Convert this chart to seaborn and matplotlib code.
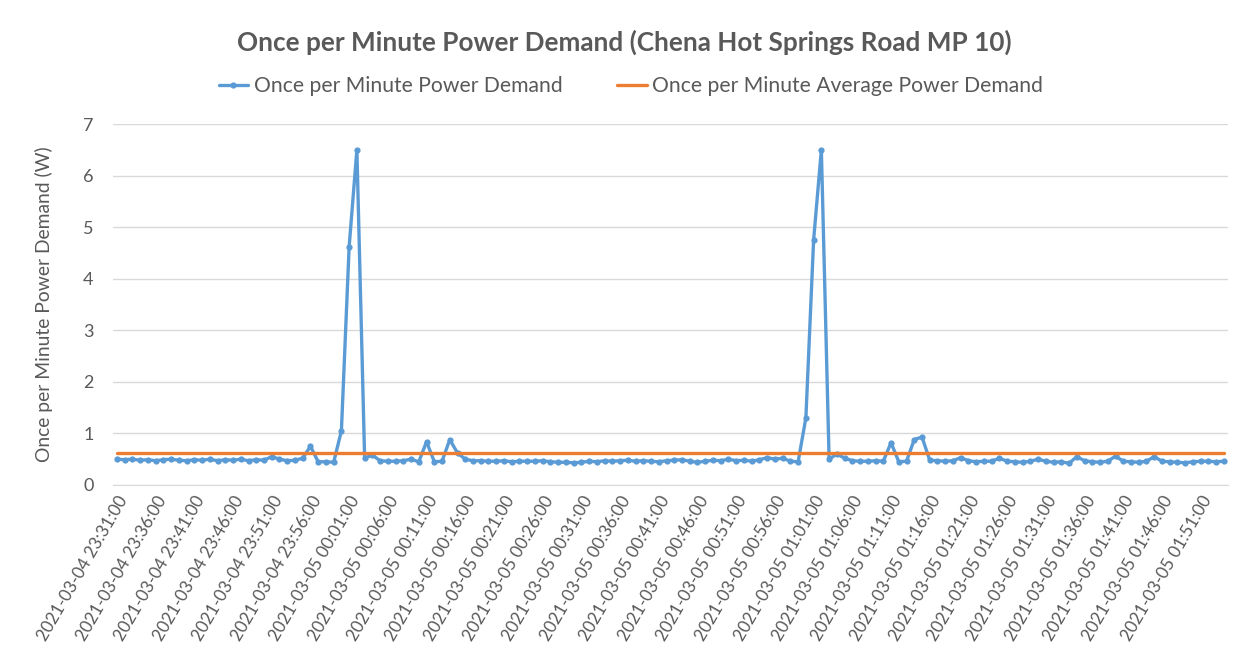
import matplotlib
matplotlib.use('Agg')
import matplotlib.pyplot as plt
import seaborn as sns
import pandas as pd

# categorias: um ponto por minuto
tempos = pd.date_range('2021-03-04 23:31:00', periods=144, freq='1min')
rotulos = [t.strftime('%Y-%m-%d %H:%M:%S') for t in tempos]

# potencia (W)
demanda = [
    0.50, 0.49, 0.50, 0.48, 0.49, 0.47, 0.49, 0.50, 0.48, 0.47,
    0.49, 0.48, 0.50, 0.47, 0.49, 0.48, 0.50, 0.47, 0.49, 0.48,
    0.55, 0.50, 0.47, 0.48, 0.52, 0.75, 0.45, 0.45, 0.44, 1.05,
    4.62, 6.50, 0.52, 0.58, 0.47, 0.46, 0.46, 0.47, 0.50, 0.45,
    0.84, 0.45, 0.46, 0.88, 0.62, 0.50, 0.47, 0.47, 0.46, 0.46,
    0.47, 0.45, 0.46, 0.46, 0.46, 0.47, 0.45, 0.44, 0.44, 0.43,
    0.44, 0.46, 0.45, 0.47, 0.46, 0.47, 0.48, 0.46, 0.47, 0.46,
    0.45, 0.47, 0.48, 0.49, 0.46, 0.44, 0.46, 0.48, 0.47, 0.50,
    0.47, 0.48, 0.46, 0.49, 0.53, 0.50, 0.52, 0.46, 0.45, 1.30,
    4.75, 6.50, 0.50, 0.60, 0.52, 0.47, 0.46, 0.46, 0.47, 0.46,
    0.82, 0.45, 0.46, 0.88, 0.93, 0.48, 0.47, 0.46, 0.47, 0.53,
    0.47, 0.45, 0.46, 0.46, 0.52, 0.46, 0.45, 0.44, 0.46, 0.50,
    0.46, 0.44, 0.45, 0.42, 0.55, 0.47, 0.45, 0.44, 0.46, 0.56,
    0.46, 0.45, 0.44, 0.46, 0.55, 0.46, 0.45, 0.44, 0.43, 0.45,
    0.46, 0.46, 0.45, 0.46,
]
media = 0.62  # media de demanda (linha laranja)

df = pd.DataFrame({'pos': range(len(demanda)), 'demanda': demanda})
df['media'] = media

sns.set_style('white')
plt.rcParams['font.family'] = ['Lato', 'DejaVu Sans']
cinza = '#595959'

fig = plt.figure(figsize=(12.49, 6.61), dpi=100)
ax = fig.add_axes([0.0905, 0.2663, 0.8925, 0.5461])

sns.lineplot(data=df, x='pos', y='demanda', ax=ax, color='#5B9BD5', linewidth=2.4,
             marker='o', markersize=4.5, markeredgewidth=0,
             label='Once per Minute Power Demand')
sns.lineplot(data=df, x='pos', y='media', ax=ax, color='#ED7D31', linewidth=2.4,
             label='Once per Minute Average Power Demand')

ax.set_xlim(-0.5, len(demanda) - 0.5)
ax.set_ylim(0, 7)
ax.set_yticks(range(0, 8))
ax.yaxis.grid(True, color='#d9d9d9', linewidth=1)
ax.set_xticks(range(0, len(demanda), 5))
ax.set_xticklabels(rotulos[::5], rotation=60, ha='right', rotation_mode='anchor')
ax.tick_params(axis='both', colors=cinza, labelsize=12.3, length=0, pad=6)
ax.tick_params(axis='y', labelsize=13, pad=14)

for lado in ['top', 'right', 'left']:
    ax.spines[lado].set_visible(False)
ax.spines['bottom'].set_color('#d9d9d9')

ax.set_xlabel('')
ax.set_ylabel('Once per Minute Power Demand (W)', fontsize=13.9, color=cinza, labelpad=22)

fig.suptitle('Once per Minute Power Demand (Chena Hot Springs Road MP 10)',
             x=0.5, y=0.936, va='center', fontsize=18.8, fontweight='bold', color=cinza)

ax.legend(loc='center', bbox_to_anchor=(0.505, 0.870), bbox_transform=fig.transFigure,
          ncol=2, frameon=False, fontsize=15.2, labelcolor=cinza, handlelength=1.4,
          handletextpad=0.25, columnspacing=2.6)

fig.savefig('out.png', dpi=100)
